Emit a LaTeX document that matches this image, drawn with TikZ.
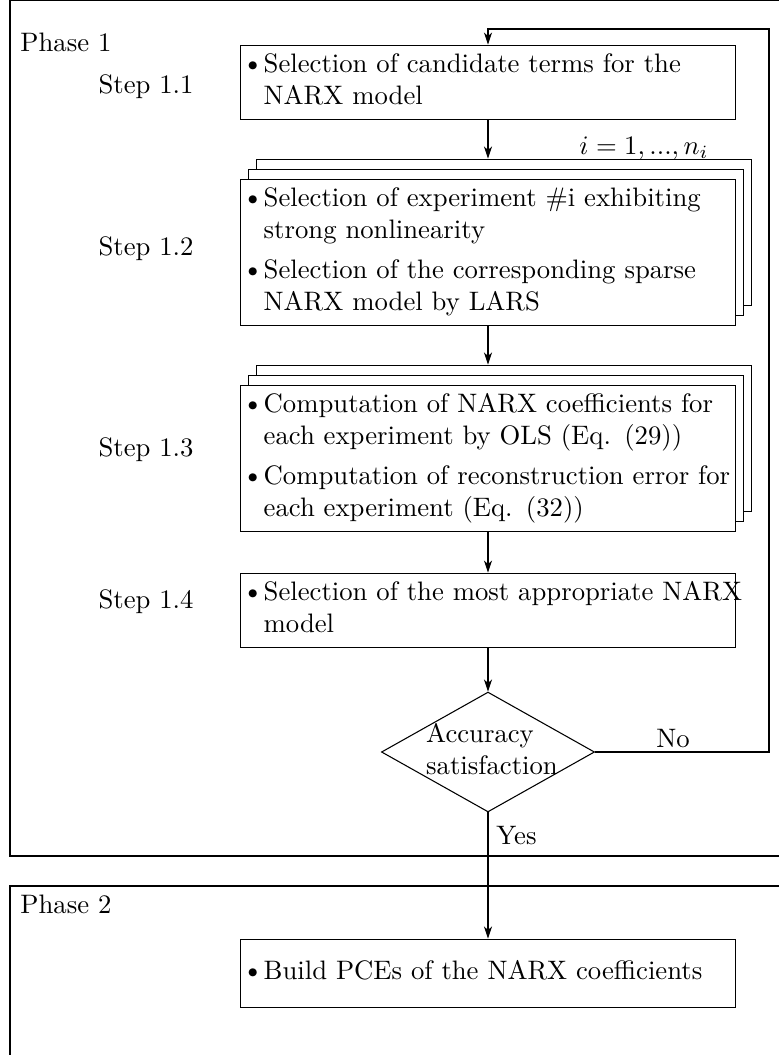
\documentclass[tikz,border=0pt]{standalone}
\usetikzlibrary{shapes.geometric,arrows.meta,shadows}
\newcommand\bul{\raisebox{0.8pt}{\scriptsize$\bullet$}}
\newcommand\items[1]{\begin{tabular}{@{}l@{\hspace{2pt}}l@{}}#1\end{tabular}}
\begin{document}
\begin{tikzpicture}[x=0.3745pt,y=-0.3745pt,line width=0.4pt,
  arr/.style={-{Stealth[length=4.5pt,width=3pt,inset=1.3pt]}},
  stepbox/.style={draw,fill=white,rectangle,minimum width=185.4pt,minimum height=25.8pt,
    inner xsep=2.6pt,inner ysep=2pt,text width=180.2pt,align=left},
  stackbox/.style={stepbox,minimum height=52.1pt,
    general shadow={shadow xshift=6pt,shadow yshift=7.49pt,draw,fill=white},
    general shadow={shadow xshift=3pt,shadow yshift=3.745pt,draw,fill=white}},
  steplabel/.style={anchor=center},
  phaselabel/.style={anchor=west},
  decision/.style={draw,diamond,minimum width=79.8pt,minimum height=44.9pt,inner sep=0pt}]
\useasboundingbox (0,0) rectangle (779,1055);
\clip (0,0) rectangle (779,1055);
% phase frames
\draw (10,0.7) rectangle (800,856);
\draw (10,886) rectangle (800,1080);
\node[phaselabel] (ph1) at (11,42) {Phase 1};
\node[phaselabel] (ph2) at (11,904) {Phase 2};
% step labels
\node[steplabel] (l11) at (146,87) {Step 1.1};
\node[steplabel] (l12) at (146,249) {Step 1.2};
\node[steplabel] (l13) at (146,450) {Step 1.3};
\node[steplabel] (l14) at (146,602) {Step 1.4};
% boxes
\node[stepbox] (s11) at (488,82.5) {\items{\bul & Selection of candidate terms for the\\ & NARX model}};
\node[stackbox] (s12) at (488,252.5) {\items{\bul & Selection of experiment \#i exhibiting\\ & strong nonlinearity\\[3pt] \bul & Selection of the corresponding sparse\\ & NARX model by LARS}};
\node[stackbox] (s13) at (488,458.5) {\items{\bul & Computation of NARX coefficients for\\ & each experiment by OLS (Eq. (29))\\[3pt] \bul & Computation of reconstruction error for\\ & each experiment (Eq. (32))}};
\node[stepbox] (s14) at (488,610.5) {\items{\bul & Selection of the most appropriate NARX\\ & model}};
\node[decision] (dec) at (488,752) {};
\node[align=left,inner sep=0pt] (dect) at (492,749) {Accuracy\\satisfaction};
\node[stepbox] (pce) at (488,973.5) {\items{\bul & Build PCEs of the NARX coefficients}};
\node (ilab) at (644,148) {$i=1,...,n_i$};
% connectors
\draw[arr] (s11.south) -- ([yshift=7.49pt]s12.north);
\draw[arr] (s12.south) -- ([yshift=7.49pt]s13.north);
\draw[arr] (s13.south) -- (s14.north);
\draw[arr] (s14.south) -- (dec.north);
\draw[arr] (dec.south) -- (pce.north);
\coordinate (rt) at (769,29);
\draw[arr] (dec.east) -| (rt) -| (s11.north);
\node (no) at (673,739) {No};
\node[anchor=west] (yes) at (487,836) {Yes};
\end{tikzpicture}
\end{document}
